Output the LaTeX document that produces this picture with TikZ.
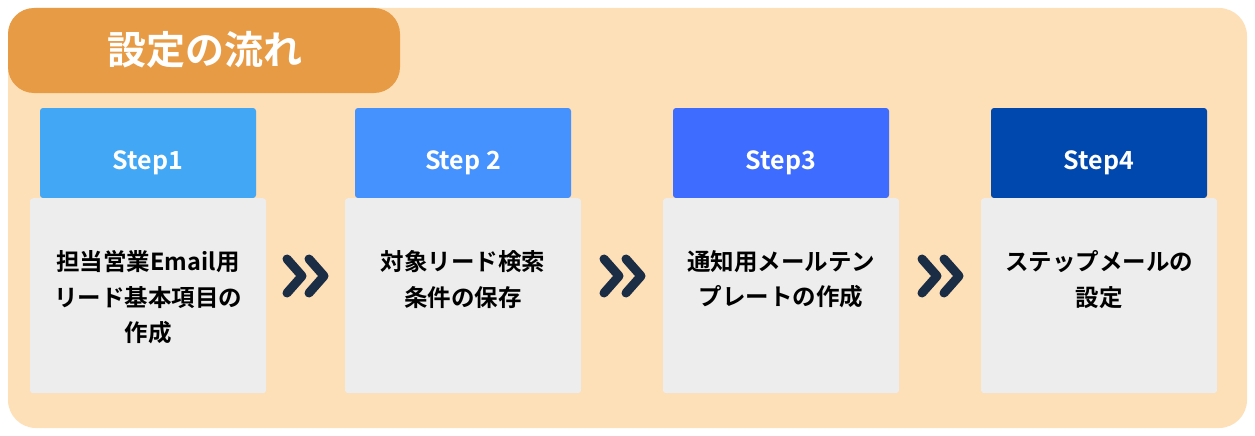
\documentclass[tikz,border=0pt]{standalone}
\usepackage{fontspec}
\newfontfamily\jp[BoldFont={Noto Sans CJK JP Bold}]{Noto Sans CJK JP}
\definecolor{bgc}{HTML}{FDDFB8}
\definecolor{tabc}{HTML}{E89B45}
\definecolor{hA}{HTML}{42A7F5}
\definecolor{hB}{HTML}{4592FF}
\definecolor{hC}{HTML}{3D6CFF}
\definecolor{hD}{HTML}{0048AE}
\definecolor{bodyc}{HTML}{EDEDED}
\definecolor{navy}{HTML}{1B2D45}
\tikzset{
 head/.style={fill=#1,rounded corners=3pt,minimum width=216pt,minimum height=90pt,inner sep=0pt,text=white,font=\jp\bfseries\fontsize{25}{30}\selectfont},
 body/.style={fill=bodyc,rounded corners=3pt,minimum width=236pt,minimum height=195pt,inner sep=0pt},
 btxt/.style={align=center,font=\jp\bfseries\fontsize{23.5}{35.5}\selectfont,text=black},
 chev/.style={draw=navy,line width=9pt,line cap=round,line join=round}
}
\begin{document}
\begin{tikzpicture}[x=1pt,y=-1pt]
\useasboundingbox (0,0) rectangle (1255,436);
\fill[bgc,rounded corners=28pt] (8,8) rectangle (1247,428);
\fill[tabc,rounded corners=26pt] (8,8) rectangle (400,93);
\node[text=white,font=\jp\bfseries\fontsize{39}{44}\selectfont] (title) at (205,50) {設定の流れ};
\foreach \i/\hx/\c/\s in {1/148/hA/Step1,2/463/hB/Step 2,3/781/hC/Step3,4/1099/hD/Step4}{
  \fill[\c,rounded corners=3pt] (\hx-108,108) rectangle (\hx+108,198);
  \node[text=white,font=\jp\bfseries\fontsize{25}{30}\selectfont] (h\i) at (\hx,163) {\s};
  \node[body,anchor=north] (b\i) at (\hx,198) {};
}
\node[btxt,anchor=north] (t1) at (148,247) {担当営業Email用\\リード基本項目の\\作成};
\node[btxt,anchor=north] (t2) at (463,247) {対象リード検索\\条件の保存};
\node[btxt,anchor=north] (t3) at (781,247) {通知用メールテン\\プレートの作成};
\node[btxt,anchor=north] (t4) at (1099,247) {ステップメールの\\設定};
\foreach \x in {287,604,922}{
  \draw[chev] (\x,259) -- (\x+15,276) -- (\x,293);
  \draw[chev] (\x+22,259) -- (\x+37,276) -- (\x+22,293);
}
\end{tikzpicture}
\end{document}
